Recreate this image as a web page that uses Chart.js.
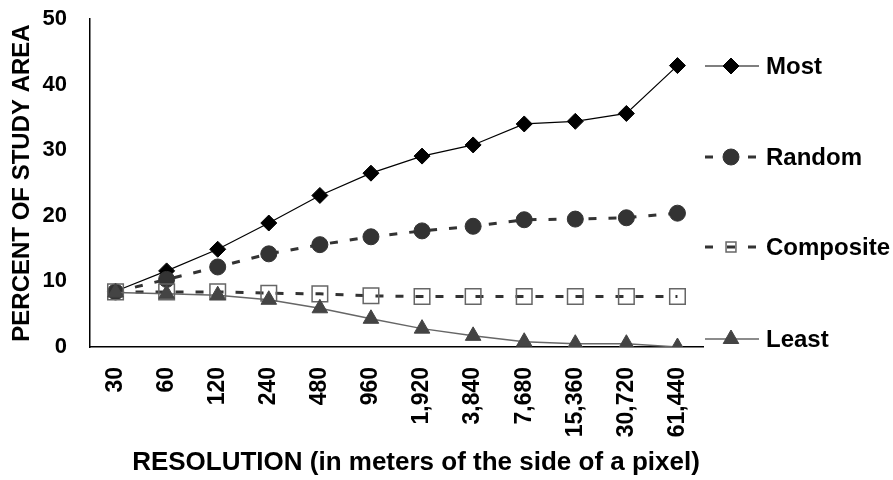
<!DOCTYPE html>
<html>
<head>
<meta charset="utf-8">
<script src="https://cdn.jsdelivr.net/npm/chart.js@4"></script>
<style>
  html, body { margin: 0; padding: 0; background: #fff; }
  #wrap { width: 893px; height: 480px; }
</style>
</head>
<body>
<div id="wrap"><canvas id="resChart" width="893" height="480"></canvas></div>
<script>
// resolution classes (metres per pixel side)
const resolutions = ["30","60","120","240","480","960","1,920","3,840","7,680","15,360","30,720","61,440"];

// percent of study area
const most      = [8.5, 11.6, 14.9, 18.9, 23.1, 26.5, 29.1, 30.8, 34.0, 34.4, 35.6, 42.9];
const random    = [8.4, 10.3, 12.2, 14.2, 15.6, 16.8, 17.7, 18.4, 19.4, 19.5, 19.7, 20.4];
const composite = [8.4, 8.4, 8.4, 8.2, 8.1, 7.8, 7.7, 7.7, 7.7, 7.7, 7.7, 7.7];
const least     = [8.3, 8.1, 7.9, 7.2, 5.9, 4.3, 2.8, 1.7, 0.8, 0.5, 0.5, 0.0];

const yTicks = [0, 10, 20, 30, 40, 50];

const FONT = "'Liberation Sans', Arial, sans-serif";
const X_TITLE = 'RESOLUTION (in meters of the side of a pixel)';

// legend on the right, one entry per series at its own height, plus the x title
const sideLegend = {
    id: 'sideLegend',
    afterDraw(chart) {
        const ctx = chart.ctx;
        const rows = [
            { y: 66,  ds: 0, dashed: false, r: 8 },
            { y: 157, ds: 1, dashed: true,  r: 8 },
            { y: 247, ds: 2, dashed: true,  r: 7 },
            { y: 339, ds: 3, dashed: false, r: 9 }
        ];
        ctx.save();
        rows.forEach(row => {
            const d = chart.data.datasets[row.ds];
            ctx.strokeStyle = d.borderColor;
            ctx.lineWidth = d.borderWidth;
            ctx.setLineDash([]);
            ctx.beginPath();
            if (row.dashed) {
                ctx.moveTo(705, row.y); ctx.lineTo(713, row.y);
                ctx.moveTo(727, row.y); ctx.lineTo(735, row.y);
                ctx.moveTo(748, row.y); ctx.lineTo(756, row.y);
            } else {
                ctx.moveTo(705, row.y); ctx.lineTo(759, row.y);
            }
            ctx.stroke();
            ctx.fillStyle = d.pointBackgroundColor;
            ctx.strokeStyle = d.pointBorderColor;
            ctx.lineWidth = d.pointBorderWidth;
            Chart.helpers.drawPoint(ctx, {
                pointStyle: d.pointStyle, radius: row.r, rotation: 0, borderWidth: d.pointBorderWidth
            }, 731, row.y);
            ctx.fillStyle = '#000';
            ctx.font = 'bold 24px ' + FONT;
            ctx.textBaseline = 'middle';
            ctx.textAlign = 'left';
            ctx.fillText(d.label, 766, row.y + 1);
        });
        // x axis title (sits a bit right of the plot centre in the original)
        ctx.font = 'bold 26px ' + FONT;
        ctx.textAlign = 'center';
        ctx.textBaseline = 'middle';
        ctx.fillText(X_TITLE, 416, 463);
        ctx.restore();
    }
};

const ctx = document.getElementById("resChart").getContext("2d");

new Chart(ctx, {
    type: 'line',
    data: {
        labels: resolutions,
        datasets: [
            {
                label: 'Most', data: most, order: 3,
                borderColor: '#000', borderWidth: 1.2,
                pointStyle: 'rectRot', pointRadius: 8,
                pointBackgroundColor: '#000', pointBorderColor: '#000', pointBorderWidth: 1
            },
            {
                label: 'Random', data: random, order: 2,
                borderColor: '#333', borderWidth: 3, borderDash: [8, 12],
                pointStyle: 'circle', pointRadius: 8,
                pointBackgroundColor: '#333', pointBorderColor: '#333', pointBorderWidth: 1
            },
            {
                label: 'Composite', data: composite, order: 1,
                borderColor: '#333', borderWidth: 3, borderDash: [8, 12],
                pointStyle: 'rect', pointRadius: 11,
                pointBackgroundColor: 'rgba(255,255,255,0)', pointBorderColor: '#666', pointBorderWidth: 1.5
            },
            {
                label: 'Least', data: least, order: 0,
                borderColor: '#666', borderWidth: 1.5,
                pointStyle: 'triangle', pointRadius: 9,
                pointBackgroundColor: '#444', pointBorderColor: '#444', pointBorderWidth: 1
            }
        ]
    },
    options: {
        responsive: false,
        animation: false,
        devicePixelRatio: 1,
        layout: { padding: { left: 8, right: 190, top: 19, bottom: 0 } },
        plugins: {
            legend: { display: false },
            tooltip: { enabled: false }
        },
        scales: {
            x: {
                offset: true,
                grid: { display: false, drawTicks: false, tickLength: 0 },
                border: { display: true, color: '#000', width: 1.5 },
                afterFit: axis => { axis.height = 133; },
                ticks: {
                    autoSkip: false, maxRotation: 90, minRotation: 90,
                    color: '#000', padding: 20,
                    font: { family: FONT, size: 23, weight: 'bold' }
                }
            },
            y: {
                min: 0, max: 50,
                grid: { display: false, drawTicks: false, tickLength: 0 },
                border: { display: true, color: '#000', width: 1.5 },
                afterBuildTicks: axis => { axis.ticks = yTicks.map(v => ({ value: v })); },
                afterFit: axis => {
                    axis.width = 82;
                    axis.paddingTop = 0;
                    axis.paddingBottom = 0;
                },
                ticks: {
                    color: '#000', padding: 23,
                    font: { family: FONT, size: 22, weight: 'bold' }
                },
                title: {
                    display: true,
                    text: 'PERCENT OF STUDY AREA',
                    color: '#000',
                    padding: { top: 0, bottom: 4 },
                    font: { family: FONT, size: 24, weight: 'bold' }
                }
            }
        }
    },
    plugins: [sideLegend]
});
</script>
</body>
</html>
